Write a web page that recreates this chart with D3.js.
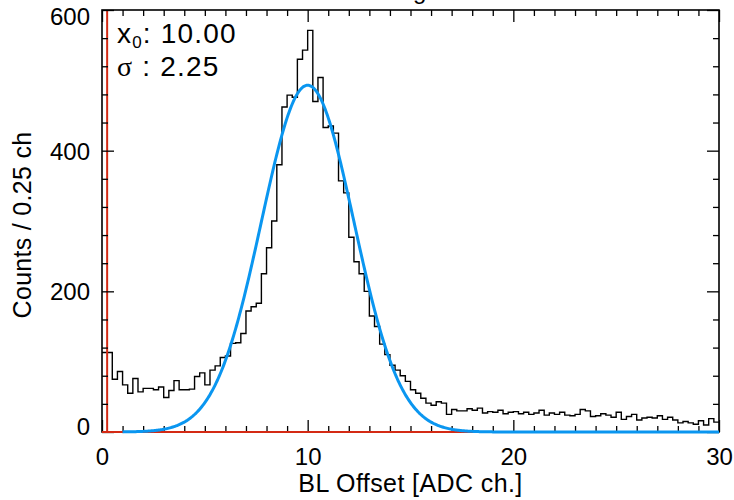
<!DOCTYPE html>
<html>
<head>
<meta charset="utf-8">
<script src="https://cdn.jsdelivr.net/npm/d3@7"></script>
<style>
  body { margin: 0; background: #fff; }
  text { font-family: "Liberation Sans", Arial, Helvetica, sans-serif; }
</style>
</head>
<body>
<div id="chart"></div>
<script>
// histogram counts, 0.25 ch bins from 0 to 30
const binWidth = 0.25
const counts = [
  113, 113, 75, 86, 67, 55, 76, 57, 62, 62,
  60, 64, 49, 59, 73, 60, 60, 61, 79, 84,
  67, 88, 94, 106, 108, 126, 127, 140, 172, 178,
  183, 225, 262, 300, 380, 462, 479, 476, 530, 543,
  571, 470, 504, 433, 435, 425, 357, 340, 277, 242,
  225, 200, 165, 150, 125, 110, 95, 88, 80, 72,
  60, 55, 48, 41, 38, 43, 41, 25, 32, 30,
  30, 33, 31, 34, 27, 29, 28, 31, 26, 28,
  29, 26, 28, 25, 27, 31, 24, 27, 25, 28,
  24, 23, 25, 32, 30, 22, 23, 26, 24, 21,
  28, 18, 22, 25, 17, 20, 21, 20, 23, 18,
  21, 17, 13, 15, 13, 11, 16, 10, 19, 14
]

// gaussian fit
const fitX0 = 10.00
const fitSigma = 2.25
const fitAmp = 493
const fitRange = [1, 30]

// threshold marker
const cutX = 0.25

const xTicks = [0, 10, 20, 30]
const yTicks = [0, 200, 400, 600]

// dimensions
const dim = {
    width: 734,
    height: 500,
    margin: { top: 10, right: 15, bottom: 68, left: 102 }
}
const innerW = dim.width - dim.margin.left - dim.margin.right
const innerH = dim.height - dim.margin.top - dim.margin.bottom

const root = d3.select('#chart')
    .append('svg')
    .attr('width', dim.width)
    .attr('height', dim.height)

// title, mostly above the visible area
const title = root.append('text')
    .attr('x', 0)
    .attr('y', -1)
    .attr('font-size', 24)
    .text('BL Offset Histogram')
const gIdx = title.text().indexOf('g')
const gPos = title.node().getStartPositionOfChar(gIdx).x
title.attr('x', 413 - gPos)

const svg = root.append('g')
    .attr('transform', `translate(${dim.margin.left}, ${dim.margin.top})`)

// scales
const xScale = d3.scaleLinear().domain([0, 30]).range([0, innerW])
const yScale = d3.scaleLinear().domain([0, 600]).range([innerH, 0])

// histogram as step line
const histPts = counts.map((c, i) => [i * binWidth, c])
histPts.push([counts.length * binWidth, counts[counts.length - 1]])

const stepLine = d3.line()
    .x(d => xScale(d[0]))
    .y(d => yScale(d[1]))
    .curve(d3.curveStepAfter)

svg.append('path')
    .datum(histPts)
    .attr('fill', 'none')
    .attr('stroke', '#000')
    .attr('stroke-width', 1.4)
    .attr('d', stepLine)

// red marker line
svg.append('line')
    .attr('x1', xScale(cutX)).attr('x2', xScale(cutX))
    .attr('y1', yScale(0)).attr('y2', yScale(600))
    .attr('stroke', '#d42a14')
    .attr('stroke-width', 2)

// gaussian curve points from the fit parameters
const fitPts = d3.range(fitRange[0], fitRange[1] + 0.001, 0.05)
    .map(x => [x, fitAmp * Math.exp(-0.5 * Math.pow((x - fitX0) / fitSigma, 2))])

// axes, ticks pointing inward
const minorX = d3.range(0, 31, 1).filter(v => v % 10 !== 0)
const minorY = d3.range(0, 601, 40).filter(v => v % 200 !== 0)

function styleAxis(g) {
    g.select('.domain').remove()
    g.selectAll('line').attr('stroke', '#000').attr('stroke-width', 1.3)
    g.selectAll('text').attr('font-size', 24).attr('fill', '#000')
        .attr('font-family', '"Liberation Sans", Arial, sans-serif')
}

// bottom
svg.append('g')
    .attr('transform', `translate(0, ${innerH})`)
    .call(d3.axisBottom(xScale).tickValues(xTicks).tickFormat(d3.format('d')).tickSize(-12).tickPadding(16))
    .call(styleAxis)
svg.append('g')
    .attr('transform', `translate(0, ${innerH})`)
    .call(d3.axisBottom(xScale).tickValues(minorX).tickFormat('').tickSize(-6))
    .call(styleAxis)
// top
svg.append('g')
    .call(d3.axisTop(xScale).tickValues(xTicks).tickFormat('').tickSize(-12))
    .call(styleAxis)
svg.append('g')
    .call(d3.axisTop(xScale).tickValues(minorX).tickFormat('').tickSize(-6))
    .call(styleAxis)
// left
const yAxisG = svg.append('g')
    .call(d3.axisLeft(yScale).tickValues(yTicks).tickFormat(d3.format('d')).tickSize(-12).tickPadding(12))
    .call(styleAxis)
yAxisG.selectAll('.tick text')
    .attr('dy', d => d === 600 ? '0.62em' : d === 0 ? '0.1em' : '0.36em')
svg.append('g')
    .call(d3.axisLeft(yScale).tickValues(minorY).tickFormat('').tickSize(-6))
    .call(styleAxis)
// right
svg.append('g')
    .attr('transform', `translate(${innerW}, 0)`)
    .call(d3.axisRight(yScale).tickValues(yTicks).tickFormat('').tickSize(-12))
    .call(styleAxis)
svg.append('g')
    .attr('transform', `translate(${innerW}, 0)`)
    .call(d3.axisRight(yScale).tickValues(minorY).tickFormat('').tickSize(-6))
    .call(styleAxis)

// frame
svg.append('rect')
    .attr('x', 0).attr('y', 0)
    .attr('width', innerW).attr('height', innerH)
    .attr('fill', 'none')
    .attr('stroke', '#000')
    .attr('stroke-width', 1.6)

// red baseline drawn over the frame
svg.append('line')
    .attr('x1', xScale(0)).attr('x2', xScale(30))
    .attr('y1', yScale(0)).attr('y2', yScale(0))
    .attr('stroke', '#d42a14')
    .attr('stroke-width', 2.2)

svg.append('path')
    .datum(fitPts)
    .attr('fill', 'none')
    .attr('stroke', '#0a96f0')
    .attr('stroke-width', 3)
    .attr('d', d3.line().x(d => xScale(d[0])).y(d => yScale(d[1])))

// axis titles
svg.append('text')
    .attr('x', innerW / 2)
    .attr('y', innerH + 60)
    .attr('text-anchor', 'middle')
    .attr('font-size', 25)
    .attr('letter-spacing', 0.4)
    .text('BL Offset [ADC ch.]')

svg.append('text')
    .attr('transform', `translate(${31 - dim.margin.left}, ${innerH / 2 + 4}) rotate(-90)`)
    .attr('text-anchor', 'middle')
    .attr('font-size', 25)
    .attr('letter-spacing', 0.3)
    .text('Counts / 0.25 ch')

// fit parameters
const label = svg.append('g').attr('transform', 'translate(15, 0)')
const l1 = label.append('text')
    .attr('y', 33)
    .attr('font-size', 28)
    .attr('letter-spacing', 1.2)
l1.append('tspan').text('x')
l1.append('tspan').attr('font-size', 17).attr('dy', 5).text('0')
l1.append('tspan').attr('dy', -5).text(': ' + fitX0.toFixed(2))

const l2 = label.append('text')
    .attr('y', 66)
    .attr('font-size', 28)
    .attr('letter-spacing', 1.2)
l2.append('tspan').attr('font-family', '"Liberation Serif", "DejaVu Serif", serif').text('σ')
l2.append('tspan').text(' : ' + fitSigma.toFixed(2))
</script>
</body>
</html>
